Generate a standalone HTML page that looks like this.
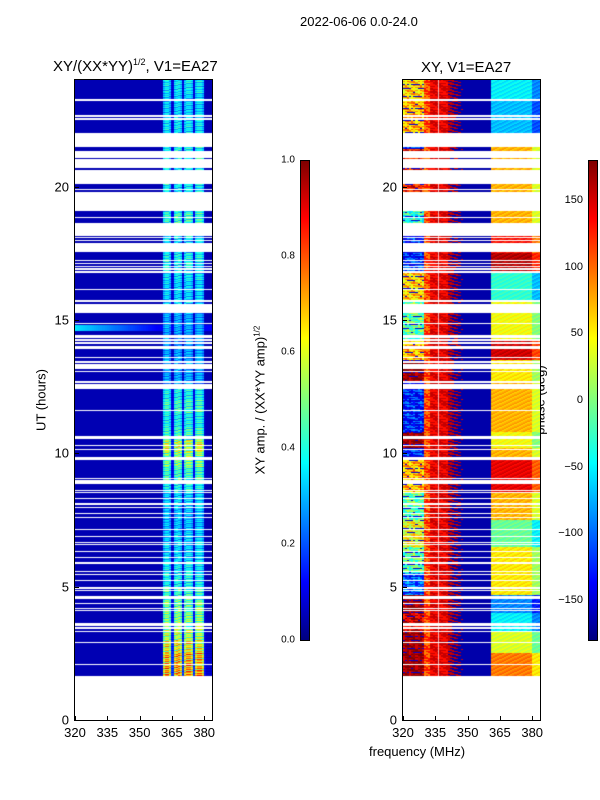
<!DOCTYPE html>
<html><head><meta charset="utf-8">
<style>
body{margin:0;background:#fff;font-family:"Liberation Sans",sans-serif;}
#root{position:relative;width:600px;height:800px;overflow:hidden;background:#fff;}
.t{position:absolute;white-space:nowrap;color:#000;}
canvas{position:absolute;}
.frame{position:absolute;border:1px solid #000;box-sizing:border-box;}
.tick{position:absolute;background:#000;}
</style></head>
<body><div id="root">
<div class="t" style="left:300px;top:14px;font-size:13px;">2022-06-06 0.0-24.0</div>
<div class="t" style="left:53px;top:57px;font-size:15px;">XY/(XX*YY)<sup style="font-size:9px;">1/2</sup>, V1=EA27</div>
<div class="t" style="left:421px;top:59px;font-size:15px;">XY, V1=EA27</div>
<div class="t" style="left:41px;top:400px;font-size:13px;transform:translate(-50%,-50%) rotate(-90deg);">UT (hours)</div>
<div class="t" style="left:260px;top:400px;font-size:13px;transform:translate(-50%,-50%) rotate(-90deg);">XY amp. / (XX*YY amp)<sup style="font-size:8px;">1/2</sup></div>
<div class="t" style="left:540px;top:400px;font-size:13px;transform:translate(-50%,-50%) rotate(-90deg);">phase (deg)</div>
<div class="t" style="left:369px;top:744px;font-size:13px;">frequency (MHz)</div>
<canvas id="cl" width="137" height="640" style="left:75px;top:80px;"></canvas>
<canvas id="cr" width="137" height="640" style="left:403px;top:80px;"></canvas>
<div class="frame" style="left:74px;top:79px;width:139px;height:642px;"></div>
<div class="frame" style="left:402px;top:79px;width:139px;height:642px;"></div>
<div class="frame" style="left:300px;top:160px;width:10px;height:481px;background:linear-gradient(to top,#00007f,#0000ff 12%,#00ffff 37%,#7fff7f 50%,#ffff00 63%,#ff0000 88%,#7f0000);"></div>
<div class="frame" style="left:588px;top:160px;width:10px;height:481px;background:linear-gradient(to top,#00007f,#0000ff 12%,#00ffff 37%,#7fff7f 50%,#ffff00 63%,#ff0000 88%,#7f0000);"></div>
<div id="ticks"></div>
</div>
<script>
// ---- data ----
const gapStart=[23.21,22.63,22.52,21.49,21.08,20.70,20.10,19.88,19.09,18.83,18.15,18.08,17.96,17.55,17.21,17.10,16.99,16.89,16.76,16.13,15.68,15.26,14.85,14.32,14.21,14.10,13.91,13.58,13.39,13.16,13.05,12.64,12.41,11.59,10.54,10.28,10.13,9.75,9.04,8.85,8.59,8.51,8.29,8.06,7.95,7.73,7.58,7.13,6.86,6.64,6.56,6.30,6.08,5.85,5.55,5.44,5.21,4.91,4.84,4.54,4.35,4.16,4.09,3.53,3.41,3.30,2.89,2.06];
const gapEnd=[23.29,22.69,22.58,22.01,21.34,21.04,20.63,19.91,19.80,18.86,18.64,18.11,18.00,17.89,17.25,17.14,17.03,16.93,16.84,16.16,15.75,15.60,14.89,14.44,14.29,14.18,14.03,13.61,13.46,13.35,13.09,12.71,12.60,11.63,10.65,10.31,10.16,9.86,9.08,9.00,8.63,8.55,8.33,8.14,7.99,7.76,7.61,7.16,6.90,6.68,6.60,6.34,6.11,5.93,5.59,5.48,5.25,4.99,4.88,4.65,4.39,4.20,4.13,3.64,3.49,3.34,2.93,2.10];
const dataStart=1.65, dataEnd=24;
const ampHighBand=[0.05,0.42,0.5,0.5,0.42,0.12,0.45,0.5,0.5,0.44,0.12,0.44,0.5,0.5,0.44,0.12,0.44,0.5,0.5,0.42,0.08,0.05,0.05,0.05]; // 360..383 MHz
const ampBase=0.05;
const ampTimeScale=[1.5,1.45,1.3,1.15,1.05,1.0,0.9,0.8,0.75,0.7,0.7,0.65,0.65,0.7,0.8,0.9,1.05,1.2,0.9,0.8,0.9,0.8,0.6,0.6,0.6,0.55,0.6,0.6,0.7,0.7,0.75,0.8,0.7,0.75,0.9,0.8,0.75,0.8,0.75,0.8,0.7,0.75,0.7,0.7,0.75];
const ampRipple=[1.0,0.8,1.12,0.9,1.2,0.75,1.05,0.92,1.1,0.7,1.15];
const bbEventStart=[14.58], bbEventEnd=[14.80], bbEventLevel=[0.35];
const phaseBlockStart=[1.65,2.5,3.3,4.0,4.7,5.5,6.5,7.5,8.5,9.85,10.2,10.8,12.7,13.5,14.2,14.5,15.7,16.8,17.5,18.4,19.8,21.4,22.0,23.3];
const phaseLow=[150,150,120,150,-130,-40,10,-40,40,-150,150,-150,150,40,-50,-40,30,-150,-150,-60,100,-150,40,30];
const phaseHigh=[80,20,-60,-100,40,40,-20,60,130,60,30,60,40,140,30,30,-40,150,120,60,60,60,-80,-60];
const phaseMid=155, phaseBlue=-165, phaseFringe=90;
const noisePattern=[0,1,0,0,1,1,0,1,0,0,0,1,1,0,1,0,0,1,0,1,1];
const ampTicks=[0.0,0.2,0.4,0.6,0.8,1.0];
const phaseTicks=[-150,-100,-50,0,50,100,150];
const xTicks=[320,335,350,365,380];
const yTicks=[0,5,10,15,20];

// ---- scales ----
const W=137,H=640;
const xS=f=>(f-320)*32.3/15;
const yS=h=>(24-h)*H/24;
function jet(v){v=Math.max(0,Math.min(1,v));const c=x=>Math.round(255*Math.max(0,Math.min(1,x)));
 return `rgb(${c(1.5-Math.abs(4*v-3))},${c(1.5-Math.abs(4*v-2))},${c(1.5-Math.abs(4*v-1))})`;}
function inGap(h0,h1){for(let i=0;i<gapStart.length;i++){const o=Math.min(h1,gapEnd[i])-Math.max(h0,gapStart[i]);if(o>0.012)return true;}return false;}
function ampVal(h,f,ti,fi){
 let v=ampBase;
 if(f>=360){const s=ampTimeScale[Math.min(ampTimeScale.length-1,Math.max(0,Math.floor((h-1.5)/0.5)))];
   v=Math.max(ampBase,ampHighBand[f-360]*s*ampRipple[(ti+(fi>>2))%ampRipple.length]);}
 for(let i=0;i<bbEventStart.length;i++)if(h>=bbEventStart[i]&&h<=bbEventEnd[i])v=Math.max(v,bbEventLevel[i]-(f-320)*0.006,0.12);
 return Math.min(v,0.92);
}
function phaseVal(h,f,ti,fi){
 let b=0;for(let i=0;i<phaseBlockStart.length;i++)if(h>=phaseBlockStart[i])b=i;
 const n=noisePattern[(ti*5+fi*3)%noisePattern.length];
 if(f<330)return n&&(ti%4===0)?-150:phaseLow[b]+(n?50:0)+(fi%3)*10;
 if(f<333)return phaseFringe+(n?40:0);
 if(f<341)return phaseMid-(n?25:0);
 if(f<348){const dens=(348-f)/8;return ((ti*7+fi*11)%10)/10<dens*0.8?phaseMid:phaseBlue;}
 if(f<361)return phaseBlue;
 return phaseHigh[b]+((fi+ti)%4)*8-(f>=380?40:0);
}
function draw(id,fn,norm){
 const ctx=document.getElementById(id).getContext('2d');
 ctx.fillStyle='#fff';ctx.fillRect(0,0,W,H);
 const dt=24/H;
 for(let ti=0;ti<H;ti++){
  const h1=dataEnd-ti*dt,h0=h1-dt;
  if(h0<dataStart-0.01)continue;
  if(inGap(h0,h1))continue;
  const h=(h0+h1)/2;
  for(let f=320;f<384;f++){
   const fi=f-320;
   ctx.fillStyle=jet(norm(fn(h,f,ti,fi)));
   const x0=xS(f),x1=xS(f+1);
   ctx.fillRect(Math.floor(x0),Math.round(yS(h1)),Math.ceil(x1)-Math.floor(x0),Math.max(1,Math.round(yS(h0))-Math.round(yS(h1))));
  }
 }
}
draw('cl',ampVal,v=>v);
draw('cr',phaseVal,v=>(v+180)/360);
(function(){const ctx=document.getElementById('cr').getContext('2d');ctx.fillStyle='rgba(255,255,255,0.7)';ctx.fillRect(Math.round(xS(336.2)),yS(24),1,yS(dataStart));})();

// ---- ticks ----
const tk=document.getElementById('ticks');
function add(html){tk.insertAdjacentHTML('beforeend',html);}
[75,403].forEach((px,pi)=>{
 xTicks.forEach(v=>{
  const x=px+xS(v);
  add(`<div class="tick" style="left:${x}px;top:716px;width:1px;height:4px;"></div>`);
  add(`<div class="t" style="left:${x}px;top:725px;font-size:13px;transform:translateX(-50%);">${v}</div>`);
 });
 yTicks.forEach(v=>{
  const y=80+yS(v);
  add(`<div class="tick" style="left:${px}px;top:${y}px;width:4px;height:1px;"></div>`);
  add(`<div class="t" style="left:${px-6}px;top:${y}px;font-size:13px;transform:translate(-100%,-50%);">${v}</div>`);
 });
});
ampTicks.forEach(v=>{const y=640-v*480;
 add(`<div class="t" style="left:295px;top:${y}px;font-size:10px;transform:translate(-100%,-50%);">${v.toFixed(1)}</div>`);});
phaseTicks.forEach(v=>{const y=640-(v+180)/360*480;
 add(`<div class="t" style="left:583px;top:${y}px;font-size:11px;transform:translate(-100%,-50%);">${v<0?'\u2212'+(-v):v}</div>`);});
</script>
</body></html>
